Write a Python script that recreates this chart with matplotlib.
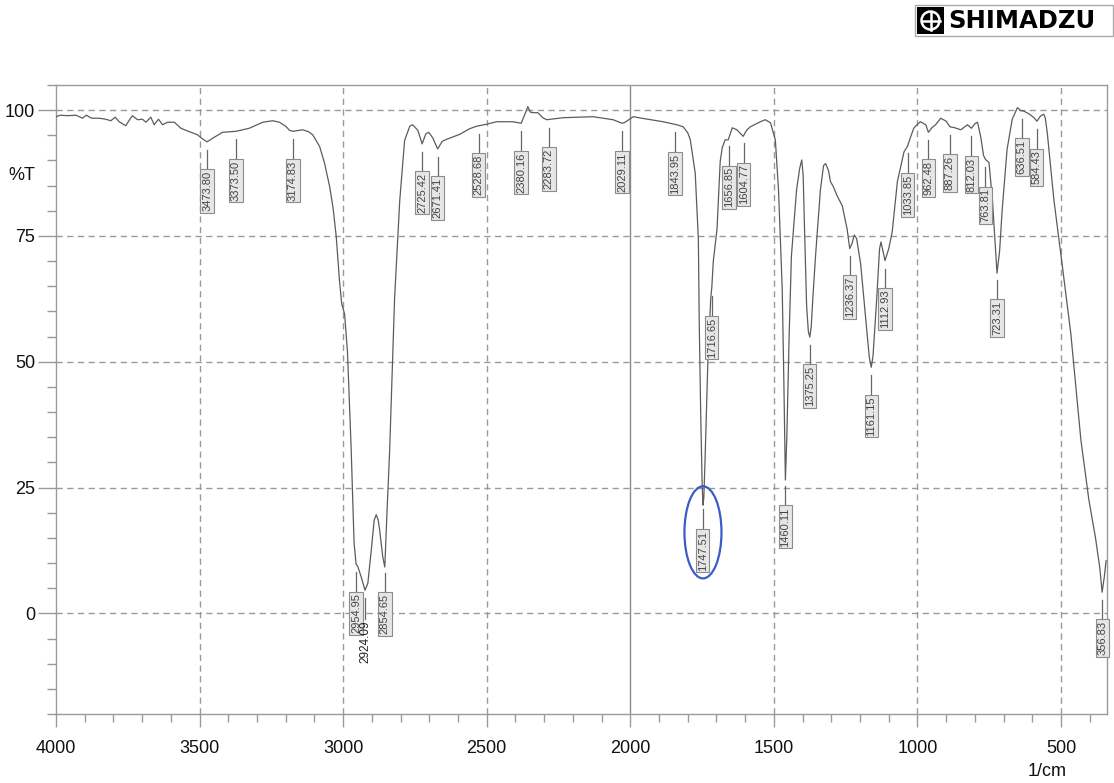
import numpy as np
import matplotlib
matplotlib.use("Agg")
import matplotlib.pyplot as plt
from matplotlib.patches import Ellipse, Rectangle, Circle
from matplotlib.lines import Line2D

plt.rcParams['font.family'] = ['Liberation Sans', 'DejaVu Sans']

# ---------------- data ----------------
wavenumber = [4000, 3985, 3960, 3931, 3915, 3908, 3894, 3880, 3873, 3850, 3827, 3809, 3794, 3780,
              3757, 3745, 3734, 3716, 3699, 3687, 3670, 3658, 3643, 3629, 3612, 3588, 3565, 3530,
              3507, 3490, 3474, 3455, 3420, 3373, 3327, 3280, 3245, 3222, 3200, 3187, 3175, 3141,
              3120, 3106, 3082, 3065, 3047, 3035, 3024, 3013, 3005, 2995, 2985, 2972, 2962, 2955,
              2949, 2937, 2924, 2914, 2902, 2892, 2885, 2878, 2873, 2862, 2855, 2848, 2838, 2821,
              2803, 2786, 2768, 2758, 2740, 2725, 2712, 2702, 2688, 2671, 2655, 2640, 2594, 2560,
              2536, 2501, 2466, 2409, 2380, 2365, 2357, 2348, 2339, 2322, 2305, 2291, 2234, 2130,
              2060, 2029, 2018, 1990, 1950, 1886, 1838, 1816, 1800, 1791, 1774, 1763, 1760, 1755,
              1750, 1747, 1744, 1740, 1730, 1720, 1716, 1711, 1698, 1687, 1680, 1670, 1659, 1645,
              1629, 1607, 1595, 1582, 1547, 1530, 1512, 1495, 1484, 1471, 1465, 1460, 1455, 1447,
              1439, 1421, 1410, 1403, 1398, 1394, 1386, 1380, 1375, 1370, 1364, 1355, 1338, 1327,
              1320, 1310, 1303, 1293, 1280, 1262, 1245, 1236, 1228, 1220, 1212, 1198, 1177, 1168,
              1161, 1155, 1142, 1132, 1127, 1120, 1113, 1100, 1088, 1070, 1047, 1035, 1025, 1013,
              1000, 990, 971, 962, 950, 937, 919, 900, 887, 870, 849, 826, 812, 800, 791, 780,
              770, 763, 751, 739, 730, 723, 714, 705, 688, 670, 652, 640, 629, 610, 594, 584,
              572, 561, 555, 548, 525, 495, 466, 431, 403, 380, 365, 357, 350, 343]
transmittance = [98.7, 99.0, 98.9, 99.0, 98.6, 98.4, 99.0, 98.5, 98.4, 98.4, 98.2, 97.9, 98.6, 97.7,
                 96.9, 98.0, 98.9, 98.1, 98.2, 97.6, 98.6, 97.1, 98.2, 97.1, 97.6, 97.6, 96.4, 95.6,
                 95.1, 94.3, 93.7, 94.4, 95.6, 95.8, 96.4, 97.6, 97.9, 97.6, 96.8, 96.0, 95.8, 96.1,
                 95.7, 95.1, 92.8, 89.5, 84.8, 80.5, 74.8, 66.2, 61.5, 59.5, 52.0, 32.5, 14.0, 9.8,
                 9.3, 7.2, 4.6, 6.0, 12.6, 18.5, 19.6, 18.6, 16.6, 11.2, 9.2, 19.2, 32.5, 62.5,
                 82.0, 94.0, 96.8, 97.1, 96.0, 93.3, 95.3, 95.6, 94.5, 92.3, 93.8, 94.2, 95.2, 96.3,
                 96.8, 97.2, 97.7, 97.7, 97.4, 99.5, 100.7, 99.6, 99.5, 99.5, 98.5, 98.1, 98.5, 98.7,
                 98.1, 97.4, 97.6, 98.7, 98.3, 97.7, 97.1, 96.7, 95.5, 94.1, 87.5, 74.3, 57.8, 40.0,
                 26.0, 21.5, 23.0, 30.0, 50.0, 62.5, 65.0, 70.0, 76.4, 89.8, 92.5, 94.1, 94.1, 96.5,
                 96.1, 94.8, 96.0, 96.7, 97.7, 98.1, 97.5, 94.1, 84.2, 64.5, 45.0, 26.5, 35.0, 55.0,
                 71.0, 84.2, 88.5, 90.1, 87.0, 77.8, 61.0, 56.0, 54.9, 57.0, 63.0, 71.0, 84.2, 89.0,
                 89.4, 88.0, 85.8, 84.8, 83.0, 81.0, 76.4, 72.5, 73.5, 75.2, 74.5, 69.5, 56.5, 51.0,
                 48.9, 51.0, 62.5, 72.5, 73.8, 72.0, 70.1, 72.5, 75.8, 85.8, 91.7, 92.8, 94.5, 96.4,
                 97.2, 97.7, 97.1, 95.6, 96.5, 97.1, 98.4, 97.8, 96.7, 96.5, 96.1, 97.1, 96.4, 97.3, 97.6, 94.8,
                 91.0, 90.2, 89.6, 82.2, 74.0, 67.6, 72.0, 80.2, 92.2, 98.2, 100.5, 99.9, 99.8, 99.2, 98.5, 97.8,
                 98.8, 99.2, 98.5, 95.5, 82.2, 68.8, 55.6, 34.5, 22.5, 15.0, 9.0, 4.2, 7.0, 10.5]

peak_wn = [3473.80, 3373.50, 3174.83, 2954.95, 2924.09, 2854.65, 2725.42, 2671.41, 2528.68,
           2380.16, 2283.72, 2029.11, 1843.95, 1747.51, 1716.65, 1656.85, 1604.77, 1460.11,
           1375.25, 1236.37, 1161.15, 1112.93, 1033.85, 962.48, 887.26, 812.03, 763.81,
           723.31, 636.51, 584.43, 356.83]
peak_labels = ["%.2f" % w for w in peak_wn]
unboxed_labels = ["2924.09"]

x_major_ticks = [4000, 3500, 3000, 2500, 2000, 1500, 1000, 500]
y_major_ticks = [0, 25, 50, 75, 100]

# ---------------- figure ----------------
W, H = 1114, 783
fig = plt.figure(figsize=(W / 100, H / 100), dpi=100)
L, R, T, B = 56, 1107, 85, 714
ax = fig.add_axes([L / W, 1 - B / H, (R - L) / W, (B - T) / H])

ax.set_xlim(4000, 340)
ax.set_ylim(-20, 105)

spine_c = '#9a9a9a'
for s in ax.spines.values():
    s.set_color(spine_c)
    s.set_linewidth(1.0)

ax.set_xticks(x_major_ticks)
ax.set_xticks(np.arange(400, 4001, 100), minor=True)
ax.set_yticks(y_major_ticks)
ax.set_yticks(np.arange(-20, 106, 5), minor=True)
ax.set_xticklabels([str(v) for v in x_major_ticks])
ax.set_yticklabels([str(v) for v in y_major_ticks])

ax.tick_params(axis='x', which='major', direction='out', length=9.5, width=1, color=spine_c,
               labelsize=13, labelcolor='#111111', pad=9)
ax.tick_params(axis='x', which='minor', direction='out', length=6, width=1, color=spine_c)
ax.tick_params(axis='y', which='major', direction='out', length=13, width=1, color=spine_c,
               labelsize=13, labelcolor='#111111', pad=2)
ax.tick_params(axis='y', which='minor', direction='out', length=6.5, width=1, color=spine_c)

grid_kw = dict(color='#9a9a9a', lw=1.0, ls=(0, (4.5, 3.2)), zorder=0)
for xv in x_major_ticks[1:]:
    if xv == 2000:
        ax.axvline(xv, color='#8a8a8a', lw=1.0, zorder=0)
    else:
        ax.axvline(xv, **grid_kw)
for yv in y_major_ticks:
    ax.axhline(yv, **grid_kw)

ax.plot(wavenumber, transmittance, color='#5c5c5c', lw=0.9, zorder=3)

# peak labels
wn_arr = np.array(wavenumber[::-1], dtype=float)
t_arr = np.array(transmittance[::-1], dtype=float)
gap, lead = 1.6, 4.2
for w, lab in zip(peak_wn, peak_labels):
    yc = np.interp(w, wn_arr, t_arr)
    y0 = yc - gap
    y1 = y0 - lead
    ax.plot([w, w], [y0, y1], color='#666666', lw=0.9, zorder=3)
    if lab in unboxed_labels:
        ax.text(w, y1 - 0.2, lab, rotation=90, ha='center', va='top', fontsize=8.5,
                color='#222222', zorder=4)
    else:
        ax.text(w, y1, lab, rotation=90, ha='center', va='top', fontsize=8,
                color='#444444', zorder=4,
                bbox=dict(boxstyle='square,pad=0.15', facecolor='#e6e6e6',
                          edgecolor='#8c8c8c', lw=0.8))

# highlight ellipse
ax.add_patch(Ellipse((1747, 16.1), width=129, height=18.3, fill=False,
                     edgecolor='#3b5cc6', lw=1.6, zorder=5))

# axis labels
fig.text(22 / W, 1 - 175 / H, '%T', ha='center', va='center', fontsize=13, color='#111111')
fig.text(1047 / W, 1 - 771 / H, '1/cm', ha='center', va='center', fontsize=13, color='#111111')

# logo
tr = fig.dpi_scale_trans
def px(x, y):
    return (x / 100, (H - y) / 100)
fig.patches.append(Rectangle(px(915, 36), 198 / 100, 31 / 100, transform=tr,
                             facecolor='white', edgecolor='#aaaaaa', lw=1.0, figure=fig))
fig.patches.append(Rectangle(px(917, 34), 27 / 100, 27 / 100, transform=tr,
                             facecolor='black', edgecolor='black', lw=0, figure=fig))
fig.patches.append(Circle(px(930.5, 20.5), 9 / 100, transform=tr, fill=False,
                          edgecolor='white', lw=1.8, figure=fig))
fig.lines.append(Line2D([921.5 / 100, 939.5 / 100], [(H - 20.5) / 100] * 2, transform=tr,
                        color='white', lw=1.8, figure=fig))
fig.lines.append(Line2D([930.5 / 100] * 2, [(H - 29.5) / 100, (H - 11.5) / 100], transform=tr,
                        color='white', lw=1.8, figure=fig))
fig.text(948 / W, 1 - 21 / H, 'SHIMADZU', ha='left', va='center', fontsize=17.5,
         fontweight='bold', family='DejaVu Sans', color='black')

fig.savefig('out.png', dpi=100)
